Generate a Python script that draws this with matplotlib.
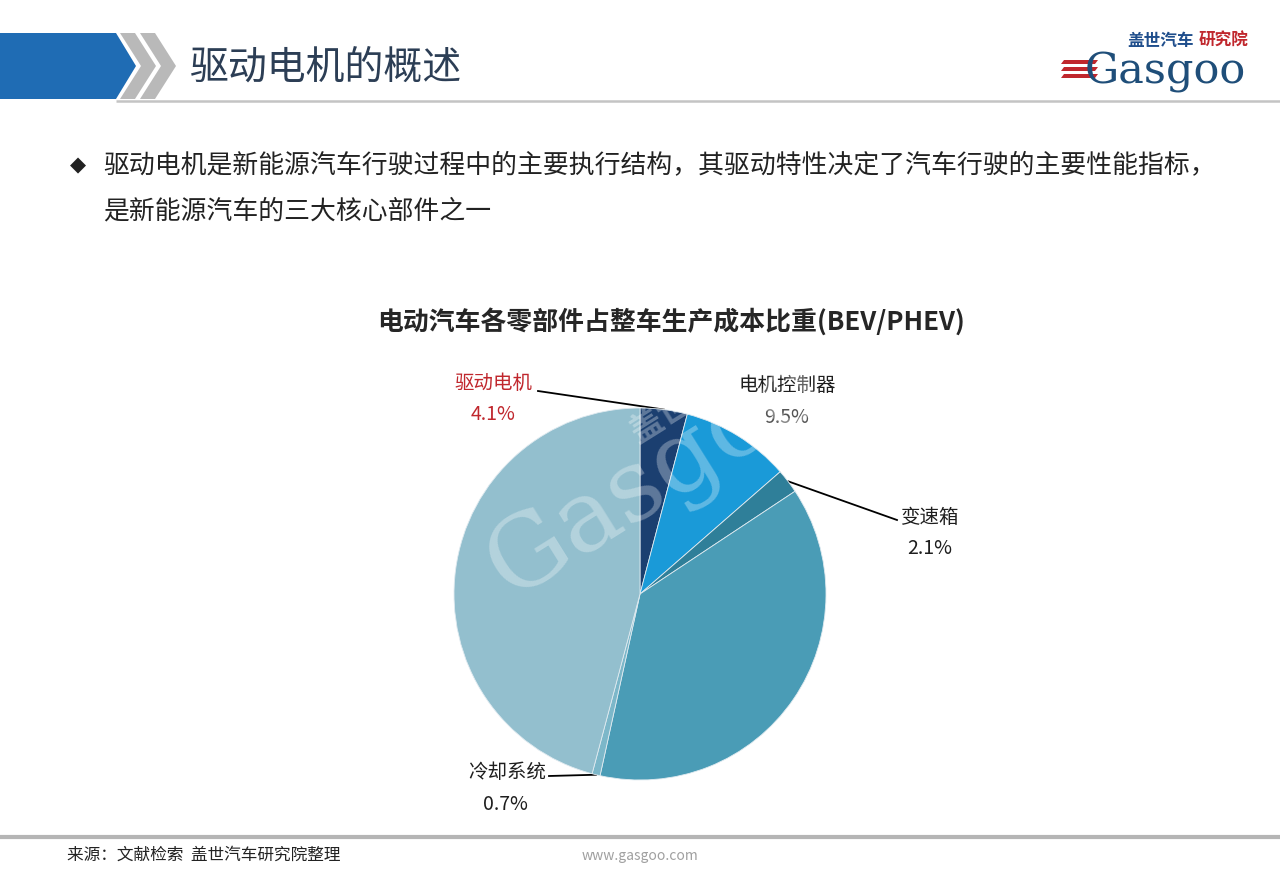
import numpy as np
import matplotlib
matplotlib.use("Agg")
import matplotlib.pyplot as plt
from matplotlib.patches import Polygon

plt.rcParams['font.family'] = ['Noto Sans CJK SC', 'DejaVu Sans']

# ---------------- data ----------------
categories = ['驱动电机', '电机控制器', '变速箱', '电池及控制器\n（BMS）', '冷却系统', '与普通汽车相同部分']
values = [4.1, 9.5, 2.1, 37.8, 0.7, 45.9]
colors = ['#1b3f70', '#1a9ad8', '#2f7f99', '#4a9cb6', '#7cb7c9', '#93bfce']
title_text = '驱动电机的概述'
bullet_lines = ['驱动电机是新能源汽车行驶过程中的主要执行结构，其驱动特性决定了汽车行驶的主要性能指标，',
                '是新能源汽车的三大核心部件之一']
chart_title = '电动汽车各零部件占整车生产成本比重(BEV/PHEV)'
source_text = '来源：文献检索  盖世汽车研究院整理'

W, H = 1280, 870
fig = plt.figure(figsize=(W / 100, H / 100), dpi=100)
fig.patch.set_facecolor('white')

# background axes in pixel coordinates
bg = fig.add_axes([0, 0, 1, 1])
bg.set_xlim(0, W)
bg.set_ylim(H, 0)
bg.axis('off')

# header graphic
bg.add_patch(Polygon([(0, 34), (116, 34), (136, 67), (116, 100), (0, 100)], closed=True,
                     facecolor='#1f6cb4', edgecolor='none'))
bg.add_patch(Polygon([(120, 34), (135, 34), (156, 67), (135, 100), (120, 100), (141, 67)], closed=True,
                     facecolor='#b9b9b9', edgecolor='none'))
bg.add_patch(Polygon([(140, 34), (155, 34), (176, 67), (155, 100), (140, 100), (161, 67)], closed=True,
                     facecolor='#b9b9b9', edgecolor='none'))
bg.plot([116, W], [101.5, 101.5], color='#c4c4c4', lw=1.8, solid_capstyle='butt')
bg.text(190, 68, title_text, fontsize=28, color='#2c3e55', va='center', ha='left')

# logo
bg.text(1127, 41, '盖世汽车', fontsize=12, color='#1f4e8c', fontweight='bold', va='center', ha='left')
bg.text(1248, 41, '研究院', fontsize=12, color='#c0272d', fontweight='bold', va='center', ha='right')
for yy in [61, 68, 75]:
    bg.add_patch(Polygon([(1064, yy), (1098, yy), (1095, yy + 4), (1061, yy + 4)],
                         closed=True, facecolor='#c0272d', edgecolor='none'))
bg.text(1085, 72, 'Gasgoo', fontsize=31, color='#1f4e79', family='DejaVu Serif',
        va='center', ha='left')

# bullet text
bg.text(78, 165, '◆', fontsize=15, color='#222222', va='center', ha='center', family=['DejaVu Sans'])
bg.text(103, 165, bullet_lines[0], fontsize=18.6, color='#222222', va='center', ha='left')
bg.text(103, 211, bullet_lines[1], fontsize=18.6, color='#222222', va='center', ha='left')

# chart title
bg.text(671, 322, chart_title, fontsize=18.6, fontweight='bold', color='#262626', va='center', ha='center')

# footer
bg.plot([0, W], [838, 838], color='#b5b5b5', lw=3, solid_capstyle='butt')
bg.text(67, 855, source_text, fontsize=12, color='#222222', va='center', ha='left')
bg.text(640, 856, 'www.gasgoo.com', fontsize=10, color='#a0a0a0', va='center', ha='center')

# ---------------- pie ----------------
cx, cy, R = 640, 595, 186
pie_ax = fig.add_axes([(cx - R) / W, (H - cy - R) / H, 2 * R / W, 2 * R / H])
wedges, _ = pie_ax.pie(values, colors=colors, startangle=90, counterclock=False,
                       radius=1, wedgeprops=dict(linewidth=0.6, edgecolor='#dfeaf0'))
pie_ax.set_xlim(-1, 1)
pie_ax.set_ylim(-1, 1)
pie_ax.set_aspect('equal')
pie_ax.axis('off')

total = sum(values)
cum = np.cumsum([0] + values)
mid_angles = [90 - 360 * (cum[i] + values[i] / 2) / total for i in range(len(values))]


def edge_px(i, r=1.0):
    a = np.deg2rad(mid_angles[i])
    return cx + R * r * np.cos(a), cy - R * r * np.sin(a)


fs = 14
label_color = '#1e1e1e'
# 驱动电机
bg.text(493, 383, categories[0], fontsize=fs, color='#c0272d', ha='center', va='center')
bg.text(493, 415, f'{values[0]}%', fontsize=fs, color='#c0272d', ha='center', va='center')
ex, ey = edge_px(0)
bg.plot([538, ex], [392, ey], color='black', lw=1.3)
# 电机控制器
bg.text(787, 385, categories[1], fontsize=fs, color=label_color, ha='center', va='center')
bg.text(787, 418, f'{values[1]}%', fontsize=fs, color='#555555', ha='center', va='center')
# 变速箱
bg.text(930, 517, categories[2], fontsize=fs, color=label_color, ha='center', va='center')
bg.text(930, 549, f'{values[2]}%', fontsize=fs, color=label_color, ha='center', va='center')
ex, ey = edge_px(2)
bg.plot([ex, 897], [ey, 521], color='black', lw=1.3)
# 电池及控制器
bg.text(725, 640, '电池及控制器', fontsize=fs, color=label_color, ha='center', va='center')
bg.text(725, 672, '（BMS）', fontsize=fs, color=label_color, ha='center', va='center')
bg.text(725, 705, f'{values[3]}%', fontsize=fs, color=label_color, ha='center', va='center')
# 冷却系统
bg.text(507, 773, categories[4], fontsize=fs, color=label_color, ha='center', va='center')
bg.text(505, 805, f'{values[4]}%', fontsize=fs, color=label_color, ha='center', va='center')
ex, ey = edge_px(4)
bg.plot([549, ex], [777, ey], color='black', lw=1.3)
# 与普通汽车相同部分
bg.text(548, 578, categories[5], fontsize=fs, color=label_color, ha='center', va='center')
bg.text(548, 612, f'{values[5]}%', fontsize=fs, color=label_color, ha='center', va='center')

# faint watermark
fig.text(655 / W, 1 - 478 / H, 'Gasgoo', fontsize=72, color='white', alpha=0.3,
         rotation=32, ha='center', va='center', family='DejaVu Serif', zorder=5)
fig.text(690 / W, 1 - 400 / H, '盖世汽车', fontsize=24, color='white', alpha=0.3,
         rotation=32, ha='center', va='center', fontweight='bold', zorder=5)

fig.savefig('out.png', dpi=100, facecolor='white')
